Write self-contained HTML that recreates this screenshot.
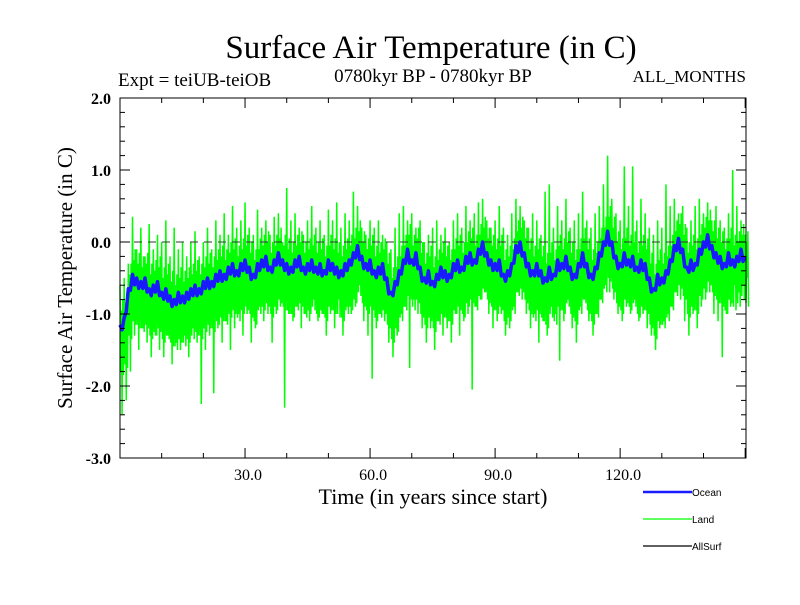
<!DOCTYPE html>
<html><head><meta charset="utf-8"><style>
body{margin:0;background:#fff}
svg text.serif{font-family:"Liberation Serif",serif}
svg text.sans{font-family:"Liberation Sans",sans-serif}
</style></head><body>
<svg id="chart" width="800" height="600" viewBox="0 0 800 600">
<text class="serif" x="431" y="58" font-size="33" text-anchor="middle">Surface Air Temperature (in C)</text>
<text class="serif" x="118" y="86" font-size="19">Expt = teiUB-teiOB</text>
<text class="serif" x="433" y="82" font-size="19" text-anchor="middle">0780kyr BP - 0780kyr BP</text>
<text class="serif" x="746" y="82" font-size="17" text-anchor="end">ALL_MONTHS</text>
<text class="serif" x="433" y="504" font-size="22" text-anchor="middle">Time (in years since start)</text>
<text class="serif" transform="translate(72,278) rotate(-90)" font-size="21" text-anchor="middle">Surface Air Temperature (in C)</text>
<g id="plot"></g>
<g id="axes"></g>
<g>
<g><line x1="643" y1="492" x2="692" y2="492" stroke="#1a1aff" stroke-width="2.5"/><text class="sans" x="692" y="496" font-size="10">Ocean</text></g>
<g><line x1="643" y1="519" x2="692" y2="519" stroke="#00ff00" stroke-width="1.2"/><text class="sans" x="692" y="523" font-size="10">Land</text></g>
<g><line x1="643" y1="546" x2="692" y2="546" stroke="#000" stroke-width="1.2"/><text class="sans" x="692" y="550" font-size="10">AllSurf</text></g>
</g>
</svg>
<script>
const xTicks=[30,60,90,120];
const xTickLabels=["30.0","60.0","90.0","120.0"];
const yTicks=[2,1,0,-1,-2,-3];
const yTickLabels=["2.0","1.0","0.0","-1.0","-2.0","-3.0"];
const ocean=[-1.2,-1.1,-0.7,-0.5,-0.55,-0.6,-0.55,-0.7,-0.65,-0.6,-0.75,-0.7,-0.8,-0.85,-0.75,-0.8,-0.75,-0.7,-0.65,-0.7,-0.6,-0.55,-0.6,-0.5,-0.45,-0.5,-0.4,-0.35,-0.45,-0.35,-0.3,-0.4,-0.5,-0.35,-0.3,-0.25,-0.4,-0.3,-0.2,-0.3,-0.35,-0.4,-0.3,-0.25,-0.4,-0.35,-0.3,-0.4,-0.35,-0.45,-0.3,-0.35,-0.4,-0.45,-0.35,-0.3,-0.2,-0.1,-0.25,-0.35,-0.3,-0.45,-0.4,-0.35,-0.55,-0.75,-0.6,-0.45,-0.3,-0.15,-0.3,-0.2,-0.4,-0.55,-0.45,-0.6,-0.5,-0.4,-0.45,-0.5,-0.35,-0.3,-0.4,-0.25,-0.2,-0.3,-0.15,-0.05,-0.2,-0.3,-0.35,-0.3,-0.5,-0.45,-0.35,-0.1,-0.05,-0.2,-0.35,-0.45,-0.35,-0.45,-0.55,-0.4,-0.5,-0.3,-0.35,-0.25,-0.4,-0.5,-0.35,-0.2,-0.35,-0.5,-0.4,-0.2,-0.05,0.1,-0.05,-0.25,-0.35,-0.2,-0.3,-0.25,-0.4,-0.3,-0.35,-0.55,-0.7,-0.5,-0.55,-0.45,-0.3,-0.1,0.0,-0.15,-0.4,-0.3,-0.35,-0.15,-0.05,0.05,-0.1,-0.2,-0.25,-0.35,-0.2,-0.3,-0.25,-0.15,-0.25];
const landHigh=[-0.6,-0.5,-0.3,0.35,-0.1,0.2,-0.2,0.25,-0.1,0.1,0.0,0.3,-0.2,0.2,-0.1,0.0,-0.2,0.0,0.15,-0.2,0.0,0.2,-0.1,0.3,0.1,0.4,0.1,0.5,0.2,0.3,0.55,0.2,0.1,0.45,0.2,0.3,0.1,0.35,0.4,0.0,0.75,0.3,0.4,0.2,0.1,0.3,0.5,0.2,0.3,0.1,0.45,0.3,0.55,0.2,0.4,0.3,0.7,0.5,0.2,0.1,0.3,0.2,0.3,0.1,0.0,-0.1,0.2,0.4,0.5,0.3,0.4,0.2,0.3,0.0,0.1,0.2,0.3,0.1,0.2,0.0,0.3,0.4,0.2,0.5,0.3,0.4,0.55,0.6,0.3,0.2,0.3,0.5,0.2,0.1,0.4,0.6,0.5,0.3,0.2,0.4,0.3,0.1,0.7,0.8,0.2,0.5,0.3,0.6,0.2,0.3,0.4,0.7,0.3,0.2,0.4,0.5,0.8,1.2,0.6,0.4,0.3,1.05,0.5,1.05,0.3,0.6,0.4,0.2,0.1,0.3,0.2,0.8,0.5,0.6,0.4,0.5,0.2,0.3,0.5,0.6,0.4,0.55,0.3,0.5,0.3,0.2,0.4,1.0,0.5,0.3,0.1];
const landLow=[-2.4,-2.2,-1.8,-1.3,-1.5,-1.2,-1.4,-1.6,-1.3,-1.5,-1.6,-1.3,-1.7,-1.4,-1.5,-1.3,-1.6,-1.2,-1.4,-2.25,-1.5,-1.3,-2.1,-1.2,-1.4,-1.1,-1.5,-1.2,-1.0,-1.3,-1.0,-1.4,-1.2,-0.9,-1.1,-1.0,-1.4,-1.0,-0.9,-2.3,-1.0,-1.1,-0.9,-1.2,-1.0,-1.1,-0.8,-1.1,-1.0,-1.3,-1.0,-1.2,-0.8,-1.3,-0.9,-1.0,-0.9,-0.6,-1.1,-1.3,-1.9,-1.2,-1.0,-1.1,-1.4,-1.6,-1.3,-1.0,-0.9,-1.75,-0.8,-1.0,-1.2,-1.4,-1.2,-1.5,-1.1,-1.3,-1.2,-1.4,-1.0,-1.3,-1.1,-1.0,-2.05,-0.9,-0.8,-0.7,-1.0,-1.2,-1.1,-1.0,-1.3,-1.2,-0.9,-0.7,-0.8,-1.0,-1.2,-1.0,-1.4,-1.1,-1.3,-0.9,-1.0,-1.65,-1.1,-0.8,-1.2,-1.4,-0.9,-0.8,-1.1,-1.3,-1.0,-0.8,-0.6,-0.7,-0.8,-1.0,-1.1,-0.9,-1.0,-0.8,-1.1,-1.0,-1.2,-1.3,-1.5,-1.2,-1.1,-1.0,-0.9,-0.7,-0.8,-1.1,-1.3,-1.0,-1.2,-0.9,-0.8,-0.7,-1.0,-1.1,-1.6,-1.0,-0.9,-0.6,-0.7,-0.6,-0.5];

const L=120,R=746,T=98,B=458,XMIN=0,XMAX=150.2,YMIN=-3,YMAX=2;
const sx=v=>L+(v-XMIN)/(XMAX-XMIN)*(R-L);
const sy=v=>B-(v-YMIN)/(YMAX-YMIN)*(B-T);
const NS="http://www.w3.org/2000/svg";
function mk(tag,attrs,parent){const e=document.createElementNS(NS,tag);for(const k in attrs)e.setAttribute(k,attrs[k]);parent.appendChild(e);return e;}
const plot=document.getElementById('plot'),axes=document.getElementById('axes');

let pts=[];
for(let i=0;i<landHigh.length;i++){
  const o=ocean[Math.min(i,ocean.length-1)];
  pts.push(sx(i)+','+sy(landHigh[i]));
  pts.push(sx(i+0.2)+','+sy(o-0.6));
  pts.push(sx(i+0.35)+','+sy(o+0.25));
  pts.push(sx(i+0.5)+','+sy(landLow[i]));
  pts.push(sx(i+0.65)+','+sy(o+0.4));
  pts.push(sx(i+0.8)+','+sy(o-0.65));
}
const land=mk('polyline',{points:pts.join(' '),fill:'none',stroke:'#00ff00','stroke-width':1.5},plot);


const zl=mk('line',{x1:L,x2:R,y1:sy(0),y2:sy(0),stroke:'#333','stroke-width':1,'stroke-dasharray':'8,6'},plot);


let op=[];
for(let i=0;i<ocean.length;i++){
  op.push(sx(i)+','+sy(ocean[i]+0.05));
  if(i<ocean.length-1){op.push(sx(i+0.5)+','+sy((ocean[i]+ocean[i+1])/2-0.07));}
}
const oc=mk('polyline',{points:op.join(' '),fill:'none',stroke:'#1a1aff','stroke-width':3.5,'stroke-linejoin':'round'},plot);



const frame=mk('rect',{x:L,y:T,width:R-L,height:B-T,fill:'none',stroke:'#000','stroke-width':1},axes);


for(let v=YMIN;v<=YMAX+1e-6;v+=0.2){
  const y=sy(v);const major=Math.abs(v-Math.round(v))<1e-6;const len=major?10:5;
  mk('line',{x1:L,x2:L+len,y1:y,y2:y,stroke:'#000'},axes);
  mk('line',{x1:R,x2:R-len,y1:y,y2:y,stroke:'#000'},axes);
}
yTicks.forEach((v,i)=>{const t=mk('text',{class:'serif',x:L-9,y:sy(v)+6,'font-size':16,'text-anchor':'end','font-weight':'bold'},axes);t.textContent=yTickLabels[i];

});
for(let v=10;v<XMAX;v+=10){
  const x=sx(v);const len=(v%30===0)?10:5;
  mk('line',{x1:x,x2:x,y1:B,y2:B-len,stroke:'#000'},axes);
  mk('line',{x1:x,x2:x,y1:T,y2:T+len,stroke:'#000'},axes);
}
xTicks.forEach((v,i)=>{const t=mk('text',{class:'serif',x:sx(v)+3,y:B+22,'font-size':16,'text-anchor':'middle'},axes);t.textContent=xTickLabels[i];

});
</script>
</body></html>
